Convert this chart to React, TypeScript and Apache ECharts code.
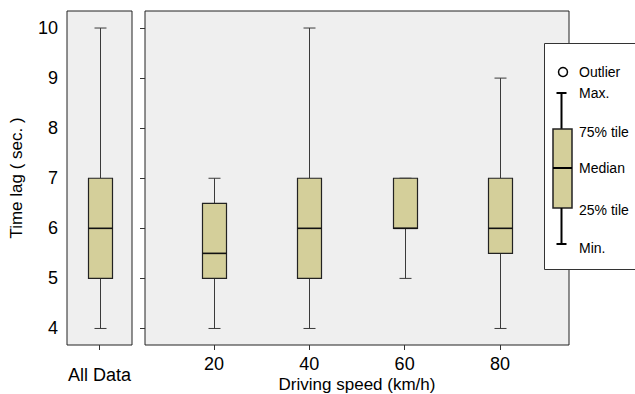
import React, { useEffect, useRef } from "react";
import * as echarts from "echarts";

const yTicks = [4, 5, 6, 7, 8, 9, 10];
const xTicks = [20, 40, 60, 80];
const allCategory = ["All Data"];
// [min, q1, median, q3, max]
const allStats = [4, 5, 6, 7, 10];
const speeds = [20, 40, 60, 80];
const mins = [4, 4, 5, 4];
const q1s = [5, 5, 6, 5.5];
const medians = [5.5, 6, 6, 6];
const q3s = [6.5, 7, 7, 7];
const maxs = [7, 10, 7, 9];
const legendLabels = ["Outlier", "Max.", "75% tile", "Median", "25% tile", "Min."];

const BOX_FILL = "#d4cf9a";
const FONT = "Liberation Sans, Arial, sans-serif";

function renderBox(params: any, api: any) {
  const x = api.value(0);
  const pMin = api.coord([x, api.value(1)]);
  const pQ1 = api.coord([x, api.value(2)]);
  const pMd = api.coord([x, api.value(3)]);
  const pQ3 = api.coord([x, api.value(4)]);
  const pMax = api.coord([x, api.value(5)]);
  const cx = Math.round(pMin[0]) + 0.5;
  const half = 12;
  const cap = 6;
  const wStyle = { stroke: "#3a3a3a", lineWidth: 1 };
  return {
    type: "group",
    children: [
      { type: "line", shape: { x1: cx, y1: pMax[1], x2: cx, y2: pQ3[1] }, style: wStyle },
      { type: "line", shape: { x1: cx, y1: pQ1[1], x2: cx, y2: pMin[1] }, style: wStyle },
      { type: "line", shape: { x1: cx - cap, y1: pMax[1], x2: cx + cap, y2: pMax[1] }, style: wStyle },
      { type: "line", shape: { x1: cx - cap, y1: pMin[1], x2: cx + cap, y2: pMin[1] }, style: wStyle },
      {
        type: "rect",
        shape: { x: cx - half, y: pQ3[1], width: half * 2, height: pQ1[1] - pQ3[1] },
        style: { fill: BOX_FILL, stroke: "#222", lineWidth: 1.2 },
      },
      {
        type: "line",
        shape: { x1: cx - half, y1: pMd[1], x2: cx + half, y2: pMd[1] },
        style: { stroke: "#111", lineWidth: 1.6 },
      },
    ],
  };
}

export default function App() {
  const ref = useRef<HTMLDivElement>(null);
  useEffect(() => {
    if (!ref.current) return;
    const chart = echarts.init(ref.current, undefined, { renderer: "svg" });
    const gridCommon = {
      show: true,
      backgroundColor: "#efefef",
      borderColor: "#222",
      borderWidth: 1,
      containLabel: false,
      outerBoundsMode: "none",
    };
    const yCommon = {
      type: "value" as const,
      min: 3.67,
      max: 10.34,
      splitLine: { show: false },
      axisLine: { show: false },
    };
    const lx = 579;
    const legendText = (text: string, y: number) => ({
      type: "text",
      x: lx,
      y,
      style: {
        text,
        fill: "#000",
        fontSize: 14,
        fontFamily: FONT,
        verticalAlign: "middle",
        textVerticalAlign: "middle",
      },
    });
    const legStroke = { stroke: "#000", lineWidth: 2 };
    const option: any = {
      animation: false,
      textStyle: { fontFamily: FONT },
      grid: [
        { ...gridCommon, left: 67, top: 11, width: 65, height: 334 },
        { ...gridCommon, left: 145, top: 11, width: 424, height: 334 },
      ],
      xAxis: [
        {
          type: "category",
          gridIndex: 0,
          data: allCategory,
          axisLine: { show: false },
          axisTick: { show: true, alignWithLabel: true, length: 5, lineStyle: { color: "#333" } },
          axisLabel: { color: "#000", fontSize: 18, margin: 21 },
        },
        {
          type: "value",
          gridIndex: 1,
          min: 5.5,
          max: 94.5,
          splitLine: { show: false },
          axisLine: { show: false },
          axisTick: { show: true, length: 5, lineStyle: { color: "#333" }, customValues: xTicks },
          axisLabel: { color: "#000", fontSize: 18, margin: 10, customValues: xTicks },
          name: "Driving speed (km/h)",
          nameLocation: "middle",
          nameMoveOverlap: false,
          nameGap: 31,
          nameTextStyle: { color: "#000", fontSize: 17 },
        },
      ],
      yAxis: [
        {
          ...yCommon,
          gridIndex: 0,
          axisTick: { show: false },
          axisLabel: { color: "#000", fontSize: 18, margin: 9, customValues: yTicks },
          name: "Time lag ( sec. )",
          nameLocation: "middle",
          nameMoveOverlap: false,
          nameRotate: 90,
          nameGap: 42,
          nameTextStyle: { color: "#000", fontSize: 17 },
        },
        {
          ...yCommon,
          gridIndex: 1,
          axisTick: { show: true, length: 5, lineStyle: { color: "#333" }, customValues: yTicks },
          axisLabel: { show: false },
        },
      ],
      series: [
        {
          type: "custom",
          xAxisIndex: 0,
          yAxisIndex: 0,
          renderItem: renderBox,
          data: [[0, ...allStats]],
          encode: { x: 0, y: [1, 2, 3, 4, 5] },
        },
        {
          type: "custom",
          xAxisIndex: 1,
          yAxisIndex: 1,
          renderItem: renderBox,
          data: speeds.map((s, i) => [s, mins[i], q1s[i], medians[i], q3s[i], maxs[i]]),
          encode: { x: 0, y: [1, 2, 3, 4, 5] },
        },
      ],
      graphic: [
        {
          type: "group",
          z: 100,
          children: [
            {
              type: "rect",
              shape: { x: 544.5, y: 43.5, width: 100, height: 226 },
              style: { fill: "#fff", stroke: "#333", lineWidth: 1 },
            },
            {
              type: "circle",
              shape: { cx: 563, cy: 72, r: 4.5 },
              style: { fill: "#fff", stroke: "#000", lineWidth: 1.5 },
            },
            { type: "line", shape: { x1: 556.5, y1: 93, x2: 566.5, y2: 93 }, style: legStroke },
            { type: "line", shape: { x1: 561.5, y1: 93, x2: 561.5, y2: 129 }, style: legStroke },
            {
              type: "rect",
              shape: { x: 553, y: 129, width: 19, height: 79 },
              style: { fill: BOX_FILL, stroke: "#222", lineWidth: 1.5 },
            },
            { type: "line", shape: { x1: 553, y1: 168, x2: 572, y2: 168 }, style: legStroke },
            { type: "line", shape: { x1: 561.5, y1: 208, x2: 561.5, y2: 244 }, style: legStroke },
            { type: "line", shape: { x1: 556.5, y1: 244, x2: 566.5, y2: 244 }, style: legStroke },
            legendText(legendLabels[0], 72),
            legendText(legendLabels[1], 93),
            legendText(legendLabels[2], 132),
            legendText(legendLabels[3], 168),
            legendText(legendLabels[4], 210),
            legendText(legendLabels[5], 248),
          ],
        },
      ],
    };
    chart.setOption(option);
    return () => chart.dispose();
  }, []);
  return <div ref={ref} style={{ width: 635, height: 394, position: "absolute", left: 0, top: 0 }} />;
}
